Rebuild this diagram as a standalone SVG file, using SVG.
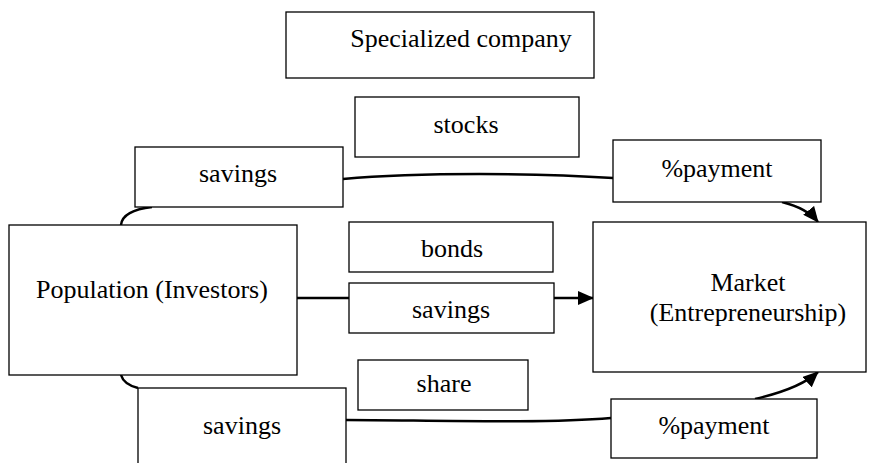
<svg xmlns="http://www.w3.org/2000/svg" width="895" height="463" viewBox="0 0 895 463">
<defs>
<marker id="arr" markerWidth="16" markerHeight="14" refX="15" refY="7" orient="auto" markerUnits="userSpaceOnUse">
<path d="M0,0 L16,7 L0,14 Z" fill="#000"/>
</marker>
<style>
.box{fill:#fff;stroke:#000;stroke-width:1.3}
.t{font-family:"Liberation Serif","Times New Roman",serif;font-size:26px;fill:#000;text-anchor:middle}
.c{fill:none;stroke:#000;stroke-width:2.5}
</style>
</defs>
<rect width="895" height="463" fill="#fff"/>
<g id="connectors">
<path class="c" d="M121,225 C122,214 135,209 152,207"/>
<path class="c" d="M343,179 C420,172 540,173 613,178"/>
<path class="c" d="M782,202 C798,206 810,212 818,222" marker-end="url(#arr)"/>
<path class="c" d="M297,298 L349,298"/>
<path class="c" d="M554,298 L593,298" marker-end="url(#arr)"/>
<path class="c" d="M121,375 C123,382 130,386 138,388"/>
<path class="c" d="M346,420 C420,420 540,424 611,418"/>
<path class="c" d="M755,399 C785,392 805,384 818,372" marker-end="url(#arr)"/>
</g>
<g id="specialized"><rect class="box" x="286" y="12" width="308" height="66"/><text class="t" x="461" y="47">Specialized company</text></g>
<g id="stocks"><rect class="box" x="355" y="97" width="224" height="60"/><text class="t" x="466" y="133">stocks</text></g>
<g id="savings-top"><rect class="box" x="135" y="147" width="208" height="60"/><text class="t" x="238" y="182">savings</text></g>
<g id="payment-top"><rect class="box" x="613" y="140" width="208" height="62"/><text class="t" x="717" y="177">%payment</text></g>
<g id="population"><rect class="box" x="9" y="225" width="288" height="150"/><text class="t" x="152" y="298">Population (Investors)</text></g>
<g id="bonds"><rect class="box" x="349" y="222" width="204" height="50"/><text class="t" x="452" y="257">bonds</text></g>
<g id="savings-mid"><rect class="box" x="349" y="283" width="205" height="50"/><text class="t" x="451" y="318">savings</text></g>
<g id="market"><rect class="box" x="593" y="222" width="273" height="150"/><text class="t" x="748" y="291">Market</text><text class="t" x="748" y="321">(Entrepreneurship)</text></g>
<g id="share"><rect class="box" x="358" y="360" width="170" height="50"/><text class="t" x="444" y="392">share</text></g>
<g id="savings-bot"><rect class="box" x="138" y="388" width="208" height="80"/><text class="t" x="242" y="434">savings</text></g>
<g id="payment-bot"><rect class="box" x="611" y="399" width="206" height="59"/><text class="t" x="714" y="434">%payment</text></g>
</svg>
